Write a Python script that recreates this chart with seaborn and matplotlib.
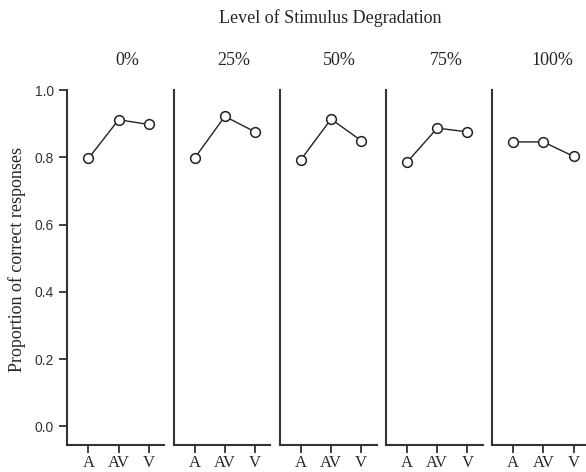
import pandas as pd
import numpy as np
from matplotlib import pyplot as plt
import seaborn as sns

# values
levels = ['0%', '25%', '50%', '75%', '100%']
modalities = ['A', 'AV', 'V']
prop_0 = [0.797, 0.912, 0.898]
prop_25 = [0.798, 0.922, 0.876]
prop_50 = [0.793, 0.914, 0.850]
prop_75 = [0.786, 0.887, 0.876]
prop_100 = [0.846, 0.846, 0.803]
y_ticks = [0.0, 0.2, 0.4, 0.6, 0.8, 1.0]


def build_table():
    rows = []
    for lev, vals in zip(levels, [prop_0, prop_25, prop_50, prop_75, prop_100]):
        for mod, v in zip(modalities, vals):
            rows.append({'level': lev, 'modality': mod, 'prop': v})
    return pd.DataFrame(rows)


def main():
    sns.set_style('ticks')
    plt.rcParams['font.family'] = ['Liberation Serif', 'DejaVu Serif']
    df = build_table()

    g = sns.relplot(
        data=df, x='modality', y='prop', col='level', col_order=levels,
        kind='line', sort=False, color='#222222', linewidth=1.0,
        marker='o', markersize=7, markerfacecolor='white',
        markeredgecolor='#222222', markeredgewidth=1.1,
        height=4, aspect=0.3, facet_kws={'sharey': True, 'sharex': True},
    )
    fig = g.figure
    fig.set_size_inches(5.86, 4.72)
    fig.set_dpi(100)
    fig.subplots_adjust(left=0.115, right=1.005, top=0.809, bottom=0.0575, wspace=0.098)

    g.set_titles('')
    g.set_axis_labels('', '')
    for i, ax in enumerate(g.axes.flat):
        ax.set_xlim(-0.7, 2.51)
        ax.set_ylim(-0.055, 1.0)
        ax.set_yticks(y_ticks)
        sns.despine(ax=ax)
        for side in ['left', 'bottom']:
            ax.spines[side].set_linewidth(1.5)
            ax.spines[side].set_color('#333333')
        ax.tick_params(axis='x', length=6, width=1.3, color='#333333',
                       labelsize=12, pad=1)
        ax.tick_params(axis='y', length=6, width=1.3, color='#333333')
        for lab in ax.get_xticklabels():
            lab.set_family('Liberation Serif')
        if i == 0:
            ax.set_yticklabels([f'{t:.1f}' for t in y_ticks],
                               family='Liberation Sans', fontsize=10,
                               color='#333333')
        else:
            ax.tick_params(axis='y', left=False, labelleft=False)
        ax.text(0.62, 1.085, levels[i], transform=ax.transAxes,
                ha='center', va='center', fontsize=13)

    fig.text(0.563, 0.962, 'Level of Stimulus Degradation',
             ha='center', va='center', fontsize=13)
    fig.text(0.029, 0.45, 'Proportion of correct responses', rotation=90,
             ha='center', va='center', fontsize=13)

    fig.savefig('out.png', dpi=100)


if __name__ == '__main__':
    main()
